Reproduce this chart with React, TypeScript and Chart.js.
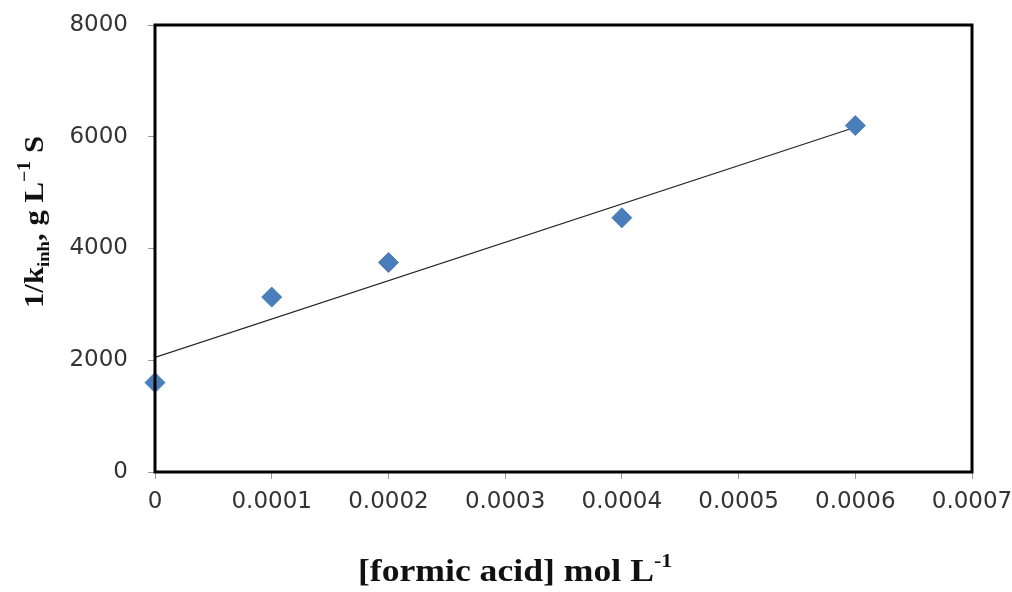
import React, { useEffect, useRef } from "react";
import { Chart, registerables } from "chart.js";

Chart.register(...registerables);

const xValues = [0, 0.0001, 0.0002, 0.0004, 0.0006];
const yValues = [1600, 3130, 3750, 4550, 6200];
const trendX = [0, 0.0006];
const trendY = [2050, 6170];
const xTickLabels = ["0", "0.0001", "0.0002", "0.0003", "0.0004", "0.0005", "0.0006", "0.0007"];
const yTickLabels = ["0", "2000", "4000", "6000", "8000"];

type Seg = { t: string; size: number; dy: number };

function drawRuns(ctx: CanvasRenderingContext2D, segs: Seg[], cx: number, cy: number, rot: number, stretch: number) {
  ctx.save();
  ctx.translate(cx, cy);
  ctx.rotate(rot);
  ctx.scale(stretch, 1);
  ctx.fillStyle = "#111";
  ctx.textBaseline = "alphabetic";
  ctx.textAlign = "left";
  let total = 0;
  const widths: number[] = [];
  for (const s of segs) {
    ctx.font = `bold ${s.size}px "Liberation Serif", "Times New Roman", serif`;
    const w = ctx.measureText(s.t).width;
    widths.push(w);
    total += w;
  }
  let x = -total / 2;
  segs.forEach((s, i) => {
    ctx.font = `bold ${s.size}px "Liberation Serif", "Times New Roman", serif`;
    ctx.fillText(s.t, x, s.dy);
    x += widths[i];
  });
  ctx.restore();
}

const framePlugin = {
  id: "frameAndTitles",
  afterDraw(chart: any) {
    const { ctx, chartArea } = chart;
    ctx.save();
    ctx.strokeStyle = "#000";
    ctx.lineWidth = 3;
    ctx.strokeRect(chartArea.left, chartArea.top, chartArea.right - chartArea.left, chartArea.bottom - chartArea.top);
    ctx.restore();
    drawRuns(
      ctx,
      [
        { t: "[formic acid] mol L", size: 31, dy: 0 },
        { t: "-1", size: 19, dy: -14 },
      ],
      515,
      581,
      0,
      1.15
    );
    drawRuns(
      ctx,
      [
        { t: "1/k", size: 28, dy: 0 },
        { t: "inh", size: 17, dy: 6 },
        { t: ", g L", size: 28, dy: 0 },
        { t: "\u22121", size: 18, dy: -13 },
        { t: " S", size: 28, dy: 0 },
      ],
      43,
      222,
      -Math.PI / 2,
      1.1
    );
  },
};

export default function App() {
  const ref = useRef<HTMLCanvasElement | null>(null);
  useEffect(() => {
    if (!ref.current) return;
    const chart = new Chart(ref.current, {
      type: "scatter",
      data: {
        datasets: [
          {
            type: "line",
            data: trendX.map((x, i) => ({ x, y: trendY[i] })),
            borderColor: "#222",
            borderWidth: 1.2,
            pointRadius: 0,
            fill: false,
            order: 2,
          } as any,
          {
            type: "scatter",
            data: xValues.map((x, i) => ({ x, y: yValues[i] })),
            pointStyle: "rectRot",
            pointRadius: 10,
            backgroundColor: "#4a7ebb",
            borderColor: "#4a7ebb",
            borderWidth: 1,
            clip: false,
            order: 1,
          } as any,
        ],
      },
      plugins: [framePlugin],
      options: {
        animation: false,
        responsive: false,
        maintainAspectRatio: false,
        layout: { padding: { top: 25, right: 40, left: 0, bottom: 0 } },
        plugins: { legend: { display: false }, tooltip: { enabled: false }, title: { display: false } },
        scales: {
          x: {
            type: "linear",
            min: 0,
            max: 0.0007,
            afterBuildTicks: (scale: any) => {
              scale.ticks = xTickLabels.map((_, i) => ({ value: i * 0.0001 }));
            },
            afterFit: (scale: any) => {
              scale.height = 120;
              scale.paddingLeft = 0;
              scale.paddingRight = 0;
            },
            grid: { drawOnChartArea: false, drawTicks: true, tickLength: 7, color: "#999" },
            border: { display: false },
            ticks: {
              padding: 9,
              color: "#333",
              font: { family: '"DejaVu Sans", sans-serif', size: 23 },
              maxRotation: 0,
              autoSkip: false,
              callback: (_v: any, i: number) => xTickLabels[i],
            },
          },
          y: {
            type: "linear",
            min: 0,
            max: 8000,
            afterBuildTicks: (scale: any) => {
              scale.ticks = yTickLabels.map((l) => ({ value: Number(l) }));
            },
            afterFit: (scale: any) => {
              scale.width = 155;
              scale.paddingTop = 0;
              scale.paddingBottom = 0;
            },
            grid: { drawOnChartArea: false, drawTicks: true, tickLength: 7, color: "#999" },
            border: { display: false },
            ticks: {
              padding: 20,
              color: "#333",
              font: { family: '"DejaVu Sans", sans-serif', size: 23 },
              callback: (_v: any, i: number) => yTickLabels[i],
            },
          },
        },
      },
    });
    return () => chart.destroy();
  }, []);
  return (
    <div style={{ position: "fixed", left: 0, top: 0, width: 1012, height: 592, background: "#fff" }}>
      <canvas ref={ref} width={1012} height={592} style={{ width: 1012, height: 592 }} />
    </div>
  );
}
